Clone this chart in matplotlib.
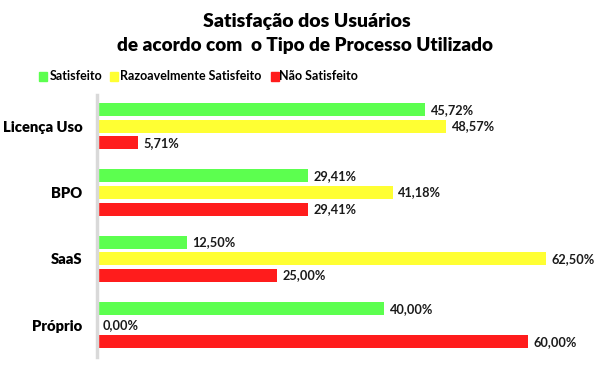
import matplotlib
matplotlib.use("Agg")
import matplotlib.pyplot as plt
from matplotlib.patches import Rectangle

plt.rcParams['font.family'] = ['Lato', 'DejaVu Sans']

categories = ["Próprio", "SaaS", "BPO", "Licença Uso"]
series_names = ["Satisfeito", "Razoavelmente Satisfeito", "Não Satisfeito"]
satisfeito = [40.00, 12.50, 29.41, 45.72]
razoavel = [0.00, 62.50, 41.18, 48.57]
nao_satisfeito = [60.00, 25.00, 29.41, 5.71]
colors = ["#5CFF4F", "#FFFF33", "#FF1C1C"]

W, H = 610, 366
fig = plt.figure(figsize=(W / 100, H / 100), dpi=100)
ax = fig.add_axes([97 / W, 1 - 357 / H, (564 - 97) / W, (357 - 95) / H])

values = [satisfeito, razoavel, nao_satisfeito]
offsets = [0.249, 0.0, -0.249]
bh = 0.196
y = list(range(len(categories)))
for vals, off, col in zip(values, offsets, colors):
    ys = [yy + off for yy in y]
    ax.barh(ys, vals, height=bh, color=col, edgecolor='none')
    for yy, v in zip(ys, vals):
        ax.annotate(f"{v:.2f}".replace(".", ",") + "%", (v, yy),
                    xytext=(4, 0), textcoords='offset points',
                    va='center', ha='left', fontsize=9.2, fontweight='bold',
                    color='#1a1a1a')

ax.set_xlim(0, 65)
ax.set_ylim(-0.48, 3.47)
ax.set_yticks(y)
ax.set_yticklabels(categories, fontsize=10.6, fontweight=800)
ax.tick_params(axis='y', length=0, pad=10.5)
ax.set_xticks([])
for s in ['top', 'right', 'bottom']:
    ax.spines[s].set_visible(False)
ax.spines['left'].set_color('#d9d9d9')
ax.spines['left'].set_linewidth(2.5)

fig.text(307 / W, 1 - 21 / H, "Satisfação dos Usuários", ha='center', va='center',
         fontsize=14, fontweight=800)
fig.text(305 / W, 1 - 45 / H, "de acordo com  o Tipo de Processo Utilizado",
         ha='center', va='center', fontsize=13.6, fontweight=800)

sq_x = [39, 110, 271]
txt_x = [50, 120, 279]
for x0, tx, name, col in zip(sq_x, txt_x, series_names, colors):
    fig.patches.append(Rectangle((x0 / W, 1 - 81 / H), 8 / W, 9 / H,
                                 transform=fig.transFigure, color=col))
    fig.text(tx / W, 1 - 76 / H, name, ha='left', va='center',
             fontsize=9, fontweight='bold')

fig.savefig("out.png", dpi=100)
